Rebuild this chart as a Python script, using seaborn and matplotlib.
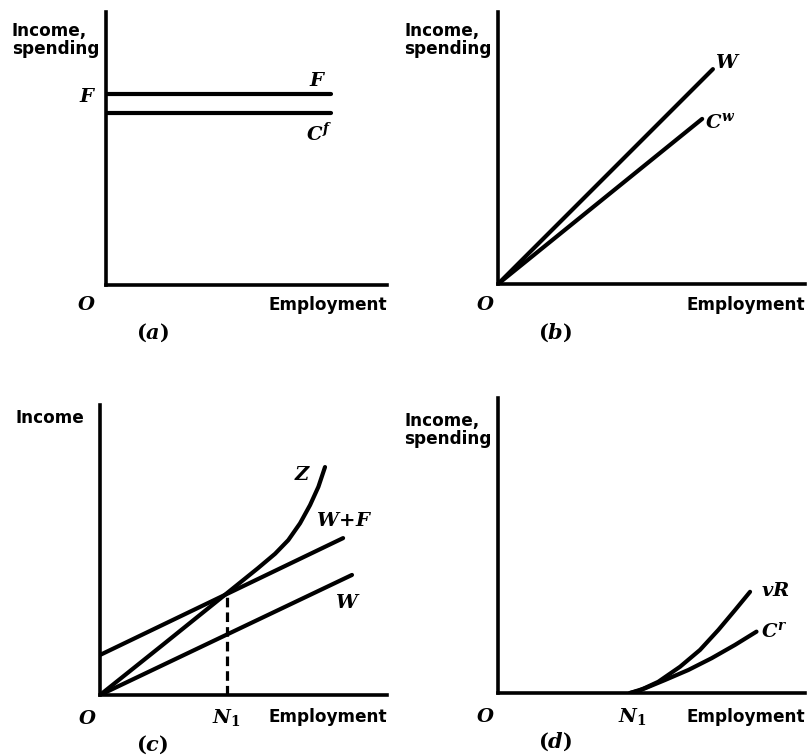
import matplotlib
matplotlib.use("Agg")
import matplotlib.pyplot as plt
import seaborn as sns
import pandas as pd

sns.set_theme(style="white")
plt.rcParams["font.family"] = ["DejaVu Sans"]
plt.rcParams["mathtext.fontset"] = "custom"
plt.rcParams["mathtext.it"] = "DejaVu Serif:italic:bold"
plt.rcParams["mathtext.rm"] = "DejaVu Serif:bold"
plt.rcParams["mathtext.bf"] = "DejaVu Serif:bold"

# ---- panel (a): fixed income F and fixed-income spending C^f
a_x = [0.0, 8.0]
a_F = [7.0, 7.0]
a_Cf = [6.3, 6.3]

# ---- panel (b): wages W and wage-earner spending C^w
b_W_x = [0.0, 7.0]
b_W_y = [0.0, 7.9]
b_Cw_x = [0.0, 6.65]
b_Cw_y = [0.0, 6.07]

# ---- panel (c): aggregate supply Z, wages W, and W + F
c_Z_x = [0.0, 2.2, 4.41, 5.5, 6.1, 6.56, 6.97, 7.32, 7.61, 7.84]
c_Z_y = [0.0, 1.74, 3.50, 4.37, 4.87, 5.34, 5.92, 6.55, 7.18, 7.86]
c_WF_x = [0.0, 8.47]
c_WF_y = [1.38, 5.41]
c_W_x = [0.0, 8.78]
c_W_y = [0.0, 4.14]
c_N1 = 4.41
c_N1_level = 3.50

# ---- panel (d): rentier income vR and rentier spending C^r
d_N1 = 4.3
d_vR_x = [4.3, 4.6, 5.22, 5.93, 6.58, 7.18, 7.72, 8.21]
d_vR_y = [0.0, 0.08, 0.38, 0.89, 1.46, 2.14, 2.81, 3.43]
d_Cr_x = [4.3, 4.79, 5.44, 6.20, 6.96, 7.72, 8.42]
d_Cr_y = [0.0, 0.16, 0.44, 0.78, 1.18, 1.63, 2.08]

W_PX, H_PX, DPI = 811, 756, 100
fig = plt.figure(figsize=(W_PX / DPI, H_PX / DPI), dpi=DPI)

LW = 3.0
AX_LW = 2.6
SANS = dict(family="DejaVu Sans", weight="bold", fontsize=12.2, color="black")
LAB = dict(fontsize=14, color="black", ha="center", va="center")


def panel(left, bottom, right, top):
    ax = fig.add_axes([left / W_PX, 1 - bottom / H_PX,
                       (right - left) / W_PX, (bottom - top) / H_PX])
    ax.set_xlim(0, 10)
    ax.set_ylim(0, 10)
    ax.set_xticks([])
    ax.set_yticks([])
    ax.patch.set_alpha(0)
    sns.despine(ax=ax)
    for s in ("left", "bottom"):
        ax.spines[s].set_linewidth(AX_LW)
        ax.spines[s].set_color("black")
    return ax


def line(ax, x, y, **kw):
    df = pd.DataFrame({"x": x, "y": y})
    sns.lineplot(data=df, x="x", y="y", ax=ax, color="black", sort=False,
                 estimator=None, linewidth=kw.pop("lw", LW),
                 solid_capstyle="round", solid_joinstyle="round", **kw)
    ax.set_xlabel("")
    ax.set_ylabel("")


def common(ax, ylab, ylab_xy, emp_y, o_x, o_y, tag, tag_xy):
    ax.text(ylab_xy[0], ylab_xy[1], ylab, ha="left", va="center",
            linespacing=1.0, clip_on=False, **SANS)
    ax.text(10.0, emp_y, "Employment", ha="right", va="center",
            clip_on=False, **SANS)
    ax.text(o_x, o_y, r"$O$", clip_on=False, **LAB)
    ax.text(tag_xy[0], tag_xy[1], tag, clip_on=False, **{**LAB, "fontsize": 15})


# (a)
ax = panel(106, 285, 387, 12)
line(ax, a_x, a_F)
line(ax, a_x, a_Cf)
ax.text(-0.64, 6.9, r"$F$", clip_on=False, **LAB)
ax.text(7.55, 7.5, r"$F$", clip_on=False, **LAB)
ax.text(7.6, 5.55, r"$C^f$", clip_on=False, **LAB)
common(ax, "Income,\nspending", (-3.35, 8.97), -0.73, -0.68, -0.73,
       r"$(a)$", (1.64, -1.76))

# (b)
ax = panel(498, 284, 805, 12)
line(ax, b_W_x, b_W_y)
line(ax, b_Cw_x, b_Cw_y)
ax.text(7.5, 8.13, r"$W$", clip_on=False, **LAB)
ax.text(7.25, 5.96, r"$C^w$", clip_on=False, **LAB)
common(ax, "Income,\nspending", (-3.06, 8.97), -0.77, -0.42, -0.77,
       r"$(b)$", (1.86, -1.8))

# (c)
ax = panel(100, 695, 387, 405)
line(ax, c_Z_x, c_Z_y)
line(ax, c_WF_x, c_WF_y)
line(ax, c_W_x, c_W_y)
line(ax, [c_N1, c_N1], [0.0, c_N1_level], lw=2.3, linestyle=(0, (3, 1.6)))
ax.text(7.07, 7.62, r"$Z$", clip_on=False, **LAB)
ax.text(8.5, 6.03, r"$W\!+\!F$", clip_on=False, **LAB)
ax.text(8.64, 3.2, r"$W$", clip_on=False, **LAB)
ax.text(c_N1, -0.76, r"$N_1$", clip_on=False, **LAB)
common(ax, "Income", (-2.96, 9.55), -0.76, -0.45, -0.8,
       r"$(c)$", (1.81, -1.72))

# (d)
ax = panel(498, 693, 805, 398)
line(ax, d_vR_x, d_vR_y)
line(ax, d_Cr_x, d_Cr_y)
ax.text(9.02, 3.49, r"$vR$", clip_on=False, **LAB)
ax.text(9.02, 2.1, r"$C^r$", clip_on=False, **LAB)
ax.text(d_N1 + 0.06, -0.81, r"$N_1$", clip_on=False, **LAB)
common(ax, "Income,\nspending", (-3.06, 8.92), -0.81, -0.42, -0.81,
       r"$(d)$", (1.86, -1.66))

fig.savefig("out.png", dpi=DPI)
